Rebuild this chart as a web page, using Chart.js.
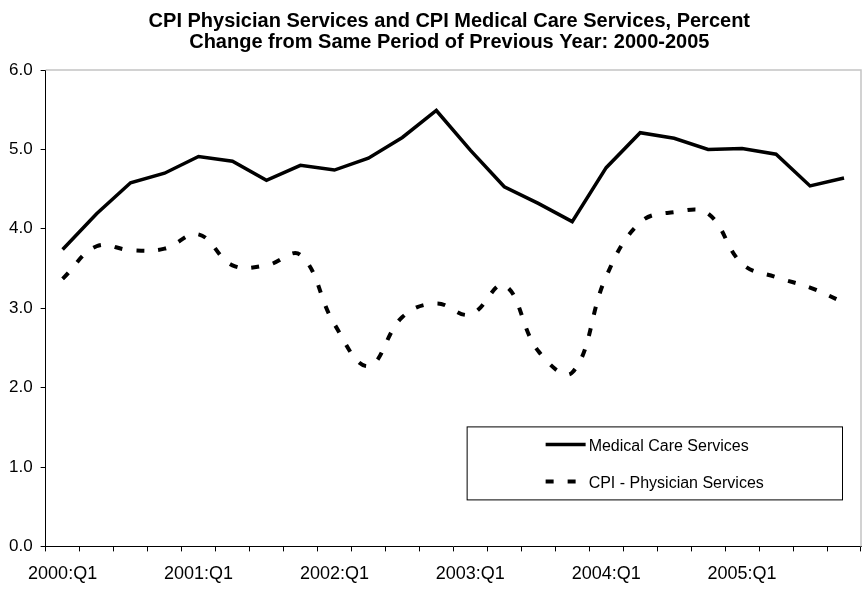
<!DOCTYPE html>
<html>
<head>
<meta charset="utf-8">
<title>CPI Physician Services and CPI Medical Care Services</title>
<script src="https://cdn.jsdelivr.net/npm/chart.js@4/dist/chart.umd.min.js"></script>
<style>
    html, body { margin: 0; padding: 0; background: #fff; }
    #chart { display: block; }
</style>
</head>
<body>
<canvas id="chart" width="865" height="594"></canvas>
<script>
// -------------------------
// Data
// -------------------------
const years = ["2000", "2001", "2002", "2003", "2004", "2005"];
const quarters = ["Q1", "Q2", "Q3", "Q4"];

// 2000:Q1 ... 2005:Q4
const periods = [];
years.forEach(y => quarters.forEach(q => periods.push(y + ":" + q)));

const medicalCare = [
    3.74, 4.19, 4.58, 4.70,
    4.91, 4.85, 4.61, 4.80,
    4.74, 4.89, 5.15, 5.49,
    4.99, 4.53, 4.32, 4.09,
    4.77, 5.21, 5.14, 5.00,
    5.01, 4.94, 4.54, 4.64
];

const physician = [
    3.37, 3.78, 3.73, 3.75,
    3.93, 3.54, 3.54, 3.67,
    2.80, 2.27, 2.89, 3.06,
    2.92, 3.29, 2.46, 2.19,
    3.40, 4.08, 4.21, 4.19,
    3.56, 3.39, 3.26, 3.07
];

const yMin = 0;
const yMax = 6;
const yStep = 1;

const font = "'Liberation Sans', Arial, sans-serif";

// -------------------------
// Title sits centred over the plot, not the canvas
// -------------------------
const titleShift = {
    id: "titleShift",
    afterLayout(chart) {
        const t = chart.titleBlock;
        if (!t) return;
        const dx = (chart.chartArea.left + chart.chartArea.right) / 2 - (t.left + t.right) / 2 - 4;
        t.left += dx;
        t.right += dx;
    }
};

// -------------------------
// Plot frame (grey top / right edge)
// -------------------------
const framePlugin = {
    id: "frame",
    beforeDatasetsDraw(chart) {
        const { ctx, chartArea: a } = chart;
        ctx.save();
        ctx.strokeStyle = "#c4c4c4";
        ctx.lineWidth = 1.5;
        ctx.beginPath();
        ctx.moveTo(a.left, a.top);
        ctx.lineTo(a.right, a.top);
        ctx.lineTo(a.right, a.bottom);
        ctx.stroke();
        ctx.restore();
    }
};

// -------------------------
// Boxed legend inside the plot
// -------------------------
const boxLegend = {
    id: "boxLegend",
    afterDraw(chart) {
        const { ctx, chartArea: a } = chart;
        const left = a.left + 421;
        const right = a.right - 19;
        const top = a.bottom - 120;
        const bottom = a.bottom - 47;

        ctx.save();
        ctx.fillStyle = "#fff";
        ctx.fillRect(left, top, right - left, bottom - top);
        ctx.strokeStyle = "#000";
        ctx.lineWidth = 1;
        ctx.strokeRect(left + 0.5, top + 0.5, right - left, bottom - top);

        const rows = [top + 18, top + 55];
        chart.data.datasets.forEach((ds, i) => {
            const y = rows[i];
            ctx.beginPath();
            ctx.setLineDash(ds.borderDash || []);
            ctx.lineWidth = ds.borderWidth;
            ctx.strokeStyle = ds.borderColor;
            ctx.moveTo(left + 79, y);
            ctx.lineTo(left + 119, y);
            ctx.stroke();
            ctx.setLineDash([]);

            ctx.fillStyle = "#000";
            ctx.font = "16px " + font;
            ctx.textBaseline = "middle";
            ctx.textAlign = "left";
            ctx.fillText(ds.label, left + 122, y + 2);
        });
        ctx.restore();
    }
};

// -------------------------
// Chart
// -------------------------
new Chart(document.getElementById("chart"), {
    type: "line",
    data: {
        labels: periods,
        datasets: [
            {
                label: "Medical Care Services",
                data: medicalCare,
                borderColor: "#000",
                borderWidth: 3.5,
                tension: 0,
                pointRadius: 0,
                fill: false
            },
            {
                label: "CPI - Physician Services",
                data: physician,
                borderColor: "#000",
                borderWidth: 4,
                borderDash: [8, 14],
                tension: 0.4,
                pointRadius: 0,
                fill: false
            }
        ]
    },
    options: {
        responsive: false,
        animation: false,
        devicePixelRatio: 1,
        layout: {
            padding: { left: 1, right: 4, top: 0, bottom: -3 }
        },
        plugins: {
            legend: { display: false },
            tooltip: { enabled: false },
            title: {
                display: true,
                text: [
                    "CPI Physician Services and CPI Medical Care Services, Percent",
                    "Change from Same Period of Previous Year: 2000-2005"
                ],
                color: "#000",
                font: { family: font, size: 20, weight: "bold", lineHeight: 1.05 },
                padding: { top: 11, bottom: 17 }
            }
        },
        scales: {
            x: {
                type: "category",
                offset: true,
                grid: {
                    offset: true,
                    drawOnChartArea: false,
                    drawTicks: true,
                    tickLength: 5,
                    tickColor: "#000"
                },
                border: { display: true, color: "#000", width: 1 },
                ticks: {
                    autoSkip: false,
                    maxRotation: 0,
                    minRotation: 0,
                    padding: 12,
                    color: "#000",
                    font: { family: font, size: 18 },
                    callback: function (value, index) {
                        return index % 4 === 0 ? periods[index] : "";
                    }
                }
            },
            y: {
                min: yMin,
                max: yMax,
                grid: {
                    drawOnChartArea: false,
                    drawTicks: true,
                    tickLength: 5,
                    tickColor: "#000"
                },
                border: { display: true, color: "#000", width: 1 },
                ticks: {
                    stepSize: yStep,
                    padding: 8,
                    color: "#000",
                    font: { family: font, size: 17 },
                    callback: v => Number(v).toFixed(1)
                }
            }
        }
    },
    plugins: [titleShift, framePlugin, boxLegend]
});
</script>
</body>
</html>
